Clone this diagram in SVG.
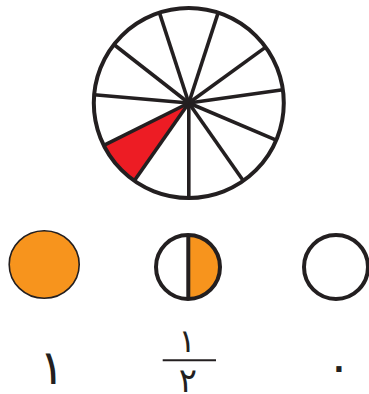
<svg xmlns="http://www.w3.org/2000/svg" width="369" height="394" viewBox="0 0 369 394">
<style>
.ln{stroke:#231f20;fill:none;stroke-linecap:butt}
.sp{stroke:#231f20;stroke-width:3.6}
.dg{font-family:"DejaVu Sans",sans-serif;fill:#231f20;text-anchor:middle}
</style>
<rect width="369" height="394" fill="#fff"/>
<g id="wheel">
<path d="M188.8,103 L103.8,145.4 A95,95 0 0 0 134.3,180.8 Z" fill="#ed1c24"/>
<g class="sp">
<line x1="188.8" y1="103" x2="159.4" y2="12.6"/>
<line x1="188.8" y1="103" x2="218.2" y2="12.6"/>
<line x1="188.8" y1="103" x2="265.7" y2="47.1"/>
<line x1="188.8" y1="103" x2="282.9" y2="89.8"/>
<line x1="188.8" y1="103" x2="276.2" y2="140.1"/>
<line x1="188.8" y1="103" x2="243.3" y2="180.8"/>
<line x1="188.8" y1="103" x2="188.8" y2="198"/>
<line x1="188.8" y1="103" x2="134.3" y2="180.8"/>
<line x1="188.8" y1="103" x2="103.8" y2="145.4"/>
<line x1="188.8" y1="103" x2="94.2" y2="94.7"/>
<line x1="188.8" y1="103" x2="113.9" y2="44.5"/>
</g>
<circle class="ln" cx="188.8" cy="103" r="95" stroke-width="4"/>
</g>
<g id="full">
<ellipse cx="44.2" cy="264.5" rx="35" ry="33.8" fill="#f7941d" stroke="#231f20" stroke-width="1.6"/>
</g>
<g id="half">
<path d="M188.3,235 A32,32 0 0 1 188.3,299 Z" fill="#f7941d"/>
<circle class="ln" cx="188" cy="267" r="32" stroke-width="4"/>
<line class="ln" x1="188.3" y1="235" x2="188.3" y2="299" stroke-width="4"/>
</g>
<g id="empty">
<circle class="ln" cx="336" cy="267" r="32" stroke-width="4"/>
</g>
<g id="labels">
<text class="dg" x="52" y="383.5" font-size="48">۱</text>
<text class="dg" x="187" y="351.5" font-size="32">۱</text>
<line x1="162.7" y1="360.3" x2="216" y2="360.3" stroke="#231f20" stroke-width="2"/>
<text class="dg" x="188" y="391.5" font-size="34">۲</text>
<text class="dg" x="339" y="383" font-size="48">۰</text>
</g>
</svg>
